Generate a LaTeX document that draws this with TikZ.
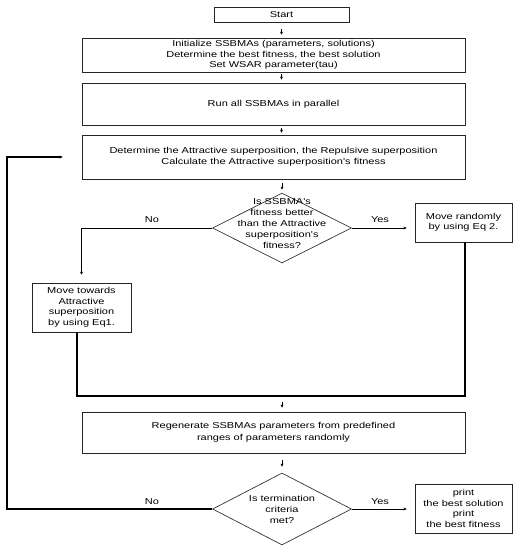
\documentclass[tikz,border=0pt]{standalone}
\usepackage{fontspec}
\newfontfamily\flowfont[FakeStretch=1.28]{Liberation Sans}
\usetikzlibrary{shapes.geometric,arrows.meta}
\tikzset{
  box/.style={draw=black!85, line width=0.8pt, rectangle, inner sep=0pt, align=center, font=\flowfont\fontsize{8.6}{10.5}\selectfont},
  dia/.style={draw=black!80, line width=0.7pt, diamond, inner sep=0pt},
  txt/.style={align=center, inner sep=0pt, font=\flowfont\fontsize{8.6}{11}\selectfont},
  arr/.style={line width=0.6pt, -{Stealth[length=3pt,width=3pt]}},
  conn/.style={line width=0.9pt},
  heavy/.style={line width=1.5pt},
}
\begin{document}
\begin{tikzpicture}[x=1pt,y=-1pt]
\useasboundingbox (0,0) rectangle (523,550);
\node[box, minimum width=135, minimum height=15] (start) at (281.5,14.5) {Start};
\node[box, minimum width=383, minimum height=34] (init) at (273.5,55) {Initialize SSBMAs (parameters, solutions)\\Determine the best fitness, the best solution\\Set WSAR parameter(tau)};
\node[box, minimum width=383, minimum height=42] (run) at (273.5,104) {Run all SSBMAs in parallel};
\node[box, minimum width=383, minimum height=44, font=\flowfont\fontsize{8.6}{11.5}\selectfont] (det) at (273.5,157) {Determine the Attractive superposition, the Repulsive superposition\\Calculate the Attractive superposition's fitness};
\node[dia, minimum width=139, minimum height=70] (d1) at (282,228) {};
\node[txt] (d1t) at (282,223.5) {Is SSBMA's\\fitness better\\than the Attractive\\superposition's\\fitness?};
\node[box, minimum width=97, minimum height=39] (mr) at (463.5,222.5) {Move randomly\\by using Eq 2.};
\node[box, minimum width=99, minimum height=49] (mt) at (81.5,307.5) {Move towards\\Attractive\\superposition\\by using Eq1.};
\node[box, minimum width=383, minimum height=41, font=\flowfont\fontsize{8.6}{11.5}\selectfont] (regen) at (273.5,432.5) {Regenerate SSBMAs parameters from predefined\\ranges of parameters randomly};
\node[dia, minimum width=139, minimum height=72] (d2) at (282,509) {};
\node[txt] (d2t) at (282,509) {Is termination\\criteria\\met?};
\node[box, minimum width=97, minimum height=49] (pr) at (463.5,508.5) {print\\the best solution\\print\\the best fitness};

\coordinate (join) at (282,396);
\coordinate (loop) at (7,509);

% straight arrows
\draw[arr, shorten <=7pt, shorten >=3pt] (start.south) -- (start.south |- init.north);
\draw[arr, shorten <=2pt, shorten >=3pt] (init.south -| start.south) -- (start.south |- run.north);
\draw[arr, shorten <=3pt, shorten >=2pt] (run.south -| start.south) -- (start.south |- det.north);
\draw[arr, shorten <=4pt, shorten >=3pt] (det.south -| d1.north) -- (d1.north);
\draw[arr, shorten <=6pt, shorten >=4pt] (join) -- (join |- regen.north);
\draw[arr, shorten <=7pt, shorten >=6pt] (regen.south -| d2.north) -- (d2.north);

% decision 1
\draw[arr, line width=0.9pt, shorten >=8pt] (d1.west) -| (mt.north);
\draw[arr, shorten >=8pt] (d1.east) -- (d1.east -| mr.west);
\node[txt] (no1) at (152,220) {No};
\node[txt] (yes1) at (380,220) {Yes};

% joins
\draw[heavy] ([xshift=-4.5pt]mt.south) |- (join) -| ([xshift=1.5pt]mr.south);

% decision 2
\draw[arr, shorten >=8pt] (d2.east) -- (d2.east -| pr.west);
\draw[arr, line width=1.2pt, shorten >=19pt] (d2.west) -- (loop) |- (det.west);
\node[txt] (no2) at (152,502) {No};
\node[txt] (yes2) at (380,502) {Yes};
\end{tikzpicture}
\end{document}
